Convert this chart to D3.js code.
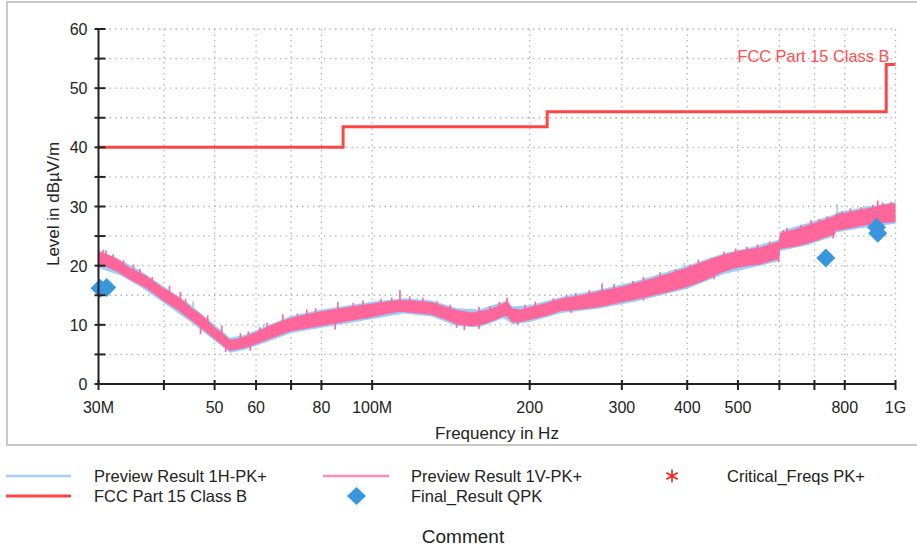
<!DOCTYPE html>
<html>
<head>
<meta charset="utf-8">
<script src="https://cdn.jsdelivr.net/npm/d3@7"></script>
<style>
  body { margin: 0; background: #fff; }
  text { font-family: "Liberation Sans", Arial, sans-serif; fill: #222; }
</style>
</head>
<body>
<div id="chart"></div>
<script>
// frequencies in MHz, levels in dBuV/m
var xTicks = [30, 40, 50, 60, 70, 80, 100, 200, 300, 400, 500, 600, 700, 800, 1000];
var xTickLabels = { 30: '30M', 50: '50', 60: '60', 80: '80', 100: '100M', 200: '200', 300: '300', 400: '400', 500: '500', 800: '800', 1000: '1G' };
var yTicks = [0, 5, 10, 15, 20, 25, 30, 35, 40, 45, 50, 55, 60];

// FCC limit steps
var limitFreqs = [30, 88, 88, 216, 216, 960, 960, 1000];
var limitLevels = [40, 40, 43.5, 43.5, 46, 46, 54, 54];

// preview 1V (pink) envelope
var vFreqs = [30, 31, 32.5, 34.5, 37, 40, 42.5, 45, 47.5, 50, 52, 53.5, 55, 57, 60, 65, 70, 75, 80, 90, 100, 106, 113, 120, 130, 137, 145, 155, 165, 172, 178, 181, 185, 192, 200, 215, 229, 250, 273, 300, 339, 370, 400, 430, 464, 500, 552, 580, 598, 602, 650, 700, 740, 765, 768, 800, 850, 895, 950, 1000];
var vLow = [19.9, 19.8, 19.0, 17.6, 16.2, 14.0, 12.5, 10.8, 9.2, 7.6, 6.4, 5.6, 5.8, 6.1, 6.7, 7.9, 8.9, 9.4, 9.8, 10.6, 11.3, 11.8, 12.2, 12.0, 11.7, 11.0, 10.1, 9.7, 10.2, 10.8, 11.4, 11.5, 10.4, 10.5, 10.8, 11.5, 12.3, 12.6, 13.0, 13.8, 14.8, 15.6, 16.4, 17.4, 18.8, 19.7, 20.2, 20.8, 21.1, 22.8, 23.3, 24.1, 24.9, 25.3, 25.9, 26.1, 26.6, 26.9, 27.2, 27.4];
var vHigh = [22.3, 22.0, 21.2, 19.6, 18.3, 16.2, 14.8, 13.0, 11.5, 9.6, 8.4, 7.5, 7.6, 8.0, 8.8, 10.2, 11.2, 11.8, 12.3, 13.0, 13.6, 13.9, 14.2, 14.1, 13.8, 13.2, 12.5, 12.1, 12.5, 13.0, 13.6, 14.2, 12.8, 12.6, 13.0, 13.7, 14.4, 15.0, 15.7, 16.5, 17.7, 18.7, 19.7, 20.7, 21.7, 22.5, 23.1, 23.7, 24.1, 25.5, 26.3, 27.2, 27.9, 28.4, 28.7, 28.9, 29.4, 29.8, 30.3, 30.5];

// preview 1H (blue) envelope, mostly hidden behind 1V
var hFreqs = [30, 33, 36, 40, 45, 50, 53.5, 57, 62, 70, 80, 100, 115, 130, 145, 160, 178, 186, 200, 230, 270, 320, 400, 470, 540, 598, 602, 680, 765, 770, 850, 1000];
var hLow = [19.6, 18.4, 16.5, 13.7, 10.5, 7.3, 5.3, 5.8, 6.9, 8.6, 9.5, 11.0, 11.9, 11.4, 9.8, 9.6, 11.1, 10.1, 10.5, 12.0, 12.7, 14.0, 16.1, 18.6, 19.8, 20.8, 22.5, 23.5, 25.0, 25.6, 26.3, 27.1];
var hHigh = [22.6, 21.0, 19.2, 16.5, 13.4, 10.0, 7.8, 8.3, 9.6, 11.5, 12.6, 13.9, 14.5, 14.1, 12.8, 12.6, 13.9, 13.1, 13.3, 14.7, 15.9, 17.4, 20.0, 22.1, 23.3, 24.4, 25.8, 27.2, 28.7, 29.0, 29.7, 30.8];

// single-sweep spikes above / below the band [freq, level]
var vUp = [[30.6, 22.7], [31, 22.6], [32, 21.9], [33.5, 20.9], [35, 20.2], [36, 19.5], [38, 18.1], [41, 16.6], [43, 15.6], [44, 14.4],
  [48.5, 11.6], [51.6, 9.9], [56, 8.6], [58, 8.9], [61, 9.6], [63, 10.3], [67.5, 11.8], [72, 11.9], [75, 12.6], [78, 12.8],
  [86, 13.9], [92, 13.7], [96, 14.1], [104, 14.4], [109, 14.6], [113, 15.9], [118, 14.8], [125, 14.6], [133, 14.0], [141, 13.4],
  [160, 13.0], [168, 13.2], [175, 13.9], [181, 14.6], [196, 13.4], [205, 13.9], [222, 14.5], [235, 15.1], [245, 15.4], [260, 15.9],
  [275, 17.0], [290, 16.9], [315, 17.4], [330, 18.1], [355, 18.9], [380, 19.4], [405, 20.2], [420, 21.0], [445, 21.3], [470, 22.4],
  [495, 22.9], [520, 23.2], [545, 23.6], [575, 24.1], [610, 26.0], [620, 26.4], [660, 26.9], [690, 27.7], [715, 27.9], [740, 28.3],
  [790, 29.2], [820, 29.7], [860, 29.9], [905, 30.3], [925, 31.0], [945, 30.7], [980, 30.8]];
var vDown = [[47, 8.4], [52.5, 5.4], [58.5, 5.6], [85, 9.2], [145, 9.5], [150, 9.1], [160, 9.3], [190, 10.0], [240, 12.0], [330, 14.1], [450, 17.7], [598, 20.6], [760, 24.6]];
var hUp = [[32, 21.8], [45.5, 14.0], [62, 10.1], [103, 14.2], [122, 14.5], [240, 15.3], [395, 20.5], [560, 23.8], [774, 30.4], [880, 30.1]];

// final QPK results
var qpkFreqs = [30.2, 31.1, 736, 920, 925];
var qpkLevels = [16.2, 16.3, 21.3, 26.5, 25.5];

var svgWidth = 917;
var svgHeight = 549;
var margin = { top: 29, left: 98.5 };
var chartWidth = 797;
var chartHeight = 355;

var red = '#ff4646';
var pink = '#ff6699';
var blue = '#9ccbf7';
var diamondBlue = '#3a96dc';

var svg = d3.select('#chart')
  .append('svg')
  .attr('width', svgWidth)
  .attr('height', svgHeight);

// outer frame
svg.append('rect')
  .attr('x', 7).attr('y', 2)
  .attr('width', 940).attr('height', 443)
  .attr('fill', 'none')
  .attr('stroke', '#c8c8c8')
  .attr('stroke-width', 2);

var chartGroup = svg.append('g')
  .attr('transform', `translate(${margin.left}, ${margin.top})`);

var xScale = d3.scaleLog().domain([30, 1000]).range([0, chartWidth]);
var yScale = d3.scaleLinear().domain([0, 60]).range([chartHeight, 0]);

// grid
chartGroup.append('g').selectAll('line')
  .data(yTicks.filter(d => d > 0))
  .enter().append('line')
  .attr('x1', 0).attr('x2', chartWidth)
  .attr('y1', d => yScale(d)).attr('y2', d => yScale(d))
  .attr('stroke', '#b4b4b4').attr('stroke-width', 1.3)
  .attr('stroke-dasharray', '1.5,4');

chartGroup.append('g').selectAll('line')
  .data(xTicks.filter(d => d > 30))
  .enter().append('line')
  .attr('x1', d => xScale(d)).attr('x2', d => xScale(d))
  .attr('y1', 0).attr('y2', chartHeight)
  .attr('stroke', '#b4b4b4').attr('stroke-width', 1.3)
  .attr('stroke-dasharray', '1.5,4');

// traces
function band(freqs, lows, highs) {
  return d3.area()
    .x((d, i) => xScale(freqs[i]))
    .y0((d, i) => yScale(lows[i]))
    .y1((d, i) => yScale(highs[i]))(freqs);
}

function spikes(data, color, dir, cls) {
  chartGroup.selectAll('.' + cls)
    .data(data)
    .enter().append('line')
    .attr('class', cls)
    .attr('x1', d => xScale(d[0])).attr('x2', d => xScale(d[0]))
    .attr('y1', d => yScale(d[1]))
    .attr('y2', d => yScale(d[1] - dir * 2))
    .attr('stroke', color).attr('stroke-width', 1.6);
}

chartGroup.append('path')
  .attr('d', band(hFreqs, hLow, hHigh))
  .attr('fill', blue);
spikes(hUp, blue, 1, 'hup');

chartGroup.append('path')
  .attr('d', band(vFreqs, vLow, vHigh))
  .attr('fill', pink);
spikes(vUp, pink, 1, 'vup');
spikes(vDown, pink, -1, 'vdown');

// limit line
var limitLine = d3.line()
  .x((d, i) => xScale(limitFreqs[i]))
  .y((d, i) => yScale(limitLevels[i]));

chartGroup.append('path')
  .attr('d', limitLine(limitFreqs))
  .attr('fill', 'none')
  .attr('stroke', red)
  .attr('stroke-width', 3);

chartGroup.append('text')
  .attr('x', xScale(1000) - 6)
  .attr('y', yScale(54) - 2.5)
  .attr('text-anchor', 'end')
  .style('font-size', '16.4px')
  .style('fill', '#ff5050')
  .text('FCC Part 15 Class B');

// final results
function diamond(cx, cy, rx, ry) {
  return `M${cx},${cy - ry}L${cx + rx},${cy}L${cx},${cy + ry}L${cx - rx},${cy}Z`;
}

chartGroup.selectAll('.qpk')
  .data(qpkFreqs)
  .enter().append('path')
  .attr('class', 'qpk')
  .attr('d', (d, i) => diamond(xScale(d), yScale(qpkLevels[i]), 9.5, 9.5))
  .attr('fill', diamondBlue);

// axes
var axisG = chartGroup.append('g');
axisG.append('line')
  .attr('x1', 0).attr('x2', chartWidth)
  .attr('y1', chartHeight).attr('y2', chartHeight)
  .attr('stroke', '#222').attr('stroke-width', 2);
axisG.append('line')
  .attr('x1', 0).attr('x2', 0)
  .attr('y1', 0).attr('y2', chartHeight)
  .attr('stroke', '#222').attr('stroke-width', 2);

axisG.selectAll('.xtick')
  .data(xTicks)
  .enter().append('line')
  .attr('class', 'xtick')
  .attr('x1', d => xScale(d)).attr('x2', d => xScale(d))
  .attr('y1', chartHeight - 4).attr('y2', chartHeight + 6)
  .attr('stroke', '#222').attr('stroke-width', 2);

axisG.selectAll('.ytick')
  .data(yTicks)
  .enter().append('line')
  .attr('class', 'ytick')
  .attr('x1', -4).attr('x2', 7)
  .attr('y1', d => yScale(d)).attr('y2', d => yScale(d))
  .attr('stroke', '#222').attr('stroke-width', 2);

axisG.selectAll('.xlabel')
  .data(xTicks.filter(d => xTickLabels[d]))
  .enter().append('text')
  .attr('class', 'xlabel')
  .attr('x', d => xScale(d))
  .attr('y', chartHeight + 28.5)
  .attr('text-anchor', 'middle')
  .style('font-size', '16px')
  .text(d => xTickLabels[d]);

axisG.selectAll('.ylabel')
  .data(yTicks.filter(d => d % 10 === 0))
  .enter().append('text')
  .attr('class', 'ylabel')
  .attr('x', -11)
  .attr('y', d => yScale(d) + 6)
  .attr('text-anchor', 'end')
  .style('font-size', '16px')
  .text(d => d);

chartGroup.append('text')
  .attr('x', chartWidth / 2)
  .attr('y', chartHeight + 55)
  .attr('text-anchor', 'middle')
  .style('font-size', '17px')
  .text('Frequency in Hz');

chartGroup.append('text')
  .attr('transform', 'rotate(-90)')
  .attr('x', -(204 - margin.top))
  .attr('y', -40)
  .attr('text-anchor', 'middle')
  .style('font-size', '17px')
  .text('Level in dBµV/m');

// legend
var legend = svg.append('g');
var row1 = 476;
var row2 = 496;

function legendLine(x1, x2, y, color, w) {
  legend.append('line')
    .attr('x1', x1).attr('x2', x2).attr('y1', y).attr('y2', y)
    .attr('stroke', color).attr('stroke-width', w);
}
function legendText(x, y, label) {
  legend.append('text')
    .attr('x', x).attr('y', y + 6)
    .style('font-size', '16.5px')
    .text(label);
}

legendLine(6, 71, row1, '#a8cdf5', 2.5);
legendText(94, row1, 'Preview Result 1H-PK+');
legendLine(6, 71, row2, red, 3);
legendText(94, row2, 'FCC Part 15 Class B');

legendLine(323, 389, row1, '#ff90b4', 2.5);
legendText(411, row1, 'Preview Result 1V-PK+');
legend.append('path')
  .attr('d', diamond(356.5, row2, 9.5, 9))
  .attr('fill', diamondBlue);
legendText(411, row2, 'Final_Result QPK');

legend.append('path')
  .attr('transform', `translate(672, ${row1})`)
  .attr('d', d3.symbol(d3.symbolAsterisk, 120)())
  .attr('fill', 'none')
  .attr('stroke', '#ff1a1a')
  .attr('stroke-width', 1.6);
legendText(727, row1, 'Critical_Freqs PK+');

svg.append('text')
  .attr('x', 463)
  .attr('y', 543)
  .attr('text-anchor', 'middle')
  .style('font-size', '19px')
  .text('Comment');
</script>
</body>
</html>
